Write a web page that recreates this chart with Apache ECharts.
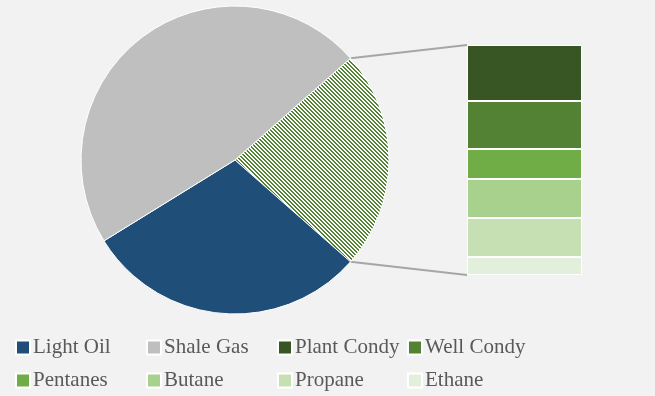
<!DOCTYPE html>
<html>
<head>
<meta charset="utf-8">
<script src="https://cdn.jsdelivr.net/npm/echarts@6/dist/echarts.min.js"></script>
<style>
html,body{margin:0;padding:0;background:#f2f2f2;}
#chart{width:655px;height:396px;}
</style>
</head>
<body>
<div id="chart"></div>
<script>
// ---- Data ----
const pieNames = ['Other', 'Light Oil', 'Shale Gas'];
const pieValues = [23.0, 29.7, 47.3];
const pieColors = [null, '#1f4e79', '#bfbfbf'];

const barNames = ['Ethane', 'Propane', 'Butane', 'Pentanes', 'Well Condy', 'Plant Condy'];
const barValues = [1.8, 3.9, 3.9, 3.0, 4.8, 5.6];
const barColors = ['#e2efda', '#c6e0b4', '#a9d18e', '#70ad47', '#548235', '#375623'];

const legendColumns = [
  ['Light Oil', 'Pentanes'],
  ['Shale Gas', 'Butane'],
  ['Plant Condy', 'Propane'],
  ['Well Condy', 'Ethane']
];

// ---- Layout ----
const pieCenter = [235, 160];
const pieRadius = 154;
const barBox = {left: 467, top: 45, width: 115, height: 230};
const legendLefts = [15, 146, 277, 407];

// hatch pattern
const pc = document.createElement('canvas');
pc.width = 8; pc.height = 8;
const pctx = pc.getContext('2d');
pctx.fillStyle = '#ffffff';
pctx.fillRect(0, 0, 8, 8);
pctx.fillStyle = '#548235';
for (let y = 0; y < 8; y++) {
  for (let x = 0; x < 8; x++) {
    if ((((x - y) % 4) + 4) % 4 < 2) pctx.fillRect(x, y, 1, 1);
  }
}

const total = pieValues.reduce((a, b) => a + b, 0);
const otherTotal = barValues.reduce((a, b) => a + b, 0);
const halfAngle = pieValues[0] / total * Math.PI; // radians
const startAngleDeg = halfAngle * 180 / Math.PI;

const topPt = [pieCenter[0] + pieRadius * Math.cos(halfAngle), pieCenter[1] - pieRadius * Math.sin(halfAngle)];
const botPt = [pieCenter[0] + pieRadius * Math.cos(halfAngle), pieCenter[1] + pieRadius * Math.sin(halfAngle)];

const chart = echarts.init(document.getElementById('chart'));

const series = [{
  type: 'pie',
  center: pieCenter,
  radius: pieRadius,
  startAngle: startAngleDeg,
  clockwise: true,
  label: {show: false},
  labelLine: {show: false},
  silent: true,
  animation: false,
  itemStyle: {borderColor: '#ffffff', borderWidth: 1},
  data: pieNames.map((n, i) => ({
    name: n,
    value: pieValues[i],
    itemStyle: {color: i === 0 ? {image: pc, repeat: 'repeat'} : pieColors[i]}
  }))
}];

barNames.forEach((n, i) => {
  series.push({
    type: 'bar',
    name: n,
    stack: 'other',
    barWidth: '100%',
    data: [barValues[i]],
    itemStyle: {color: barColors[i], borderColor: '#ffffff', borderWidth: 1},
    animation: false,
    silent: true
  });
});

const legends = legendColumns.map((col, i) => ({
  orient: 'vertical',
  left: legendLefts[i],
  top: 337,
  padding: 0,
  itemWidth: 14,
  itemHeight: 14,
  itemGap: 12,
  icon: 'rect',
  selectedMode: false,
  data: col,
  textStyle: {
    fontFamily: '"Liberation Serif", "Times New Roman", serif',
    fontSize: 21,
    color: '#595959',
    lineHeight: 21,
    padding: [0, 0, 0, -2]
  }
}));

chart.setOption({
  backgroundColor: '#f2f2f2',
  animation: false,
  textStyle: {fontFamily: '"Liberation Serif", serif'},
  legend: legends,
  grid: {left: barBox.left, top: barBox.top, width: barBox.width, height: barBox.height, containLabel: false},
  xAxis: {type: 'category', data: ['Other'], show: false},
  yAxis: {type: 'value', min: 0, max: otherTotal, show: false},
  series: series,
  graphic: [
    {type: 'line', silent: true, shape: {x1: topPt[0], y1: topPt[1], x2: barBox.left, y2: barBox.top},
     style: {stroke: '#a6a6a6', lineWidth: 2}},
    {type: 'line', silent: true, shape: {x1: botPt[0], y1: botPt[1], x2: barBox.left, y2: barBox.top + barBox.height},
     style: {stroke: '#a6a6a6', lineWidth: 2}}
  ]
});
</script>
</body>
</html>
